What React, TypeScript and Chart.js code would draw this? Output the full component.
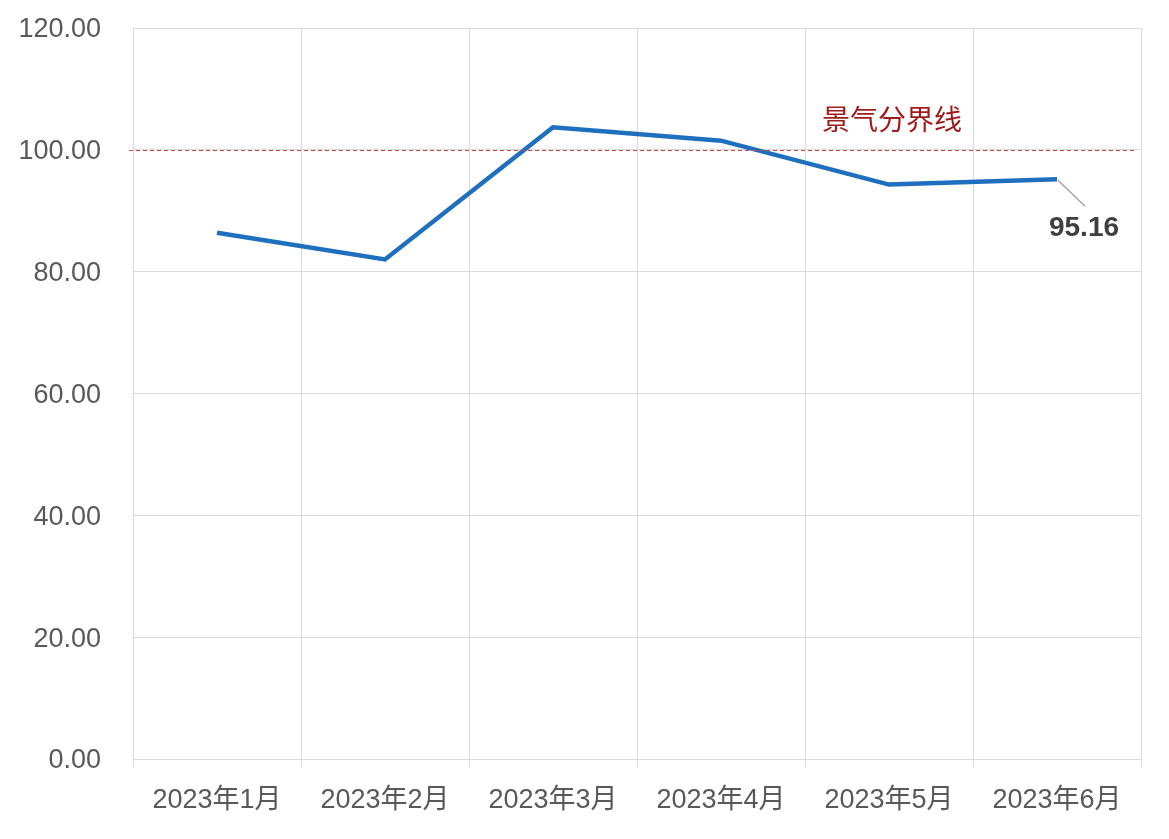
import React, { useEffect, useRef } from "react";
import { Chart, registerables } from "chart.js";

Chart.register(...registerables);

const categories = ["2023年1月", "2023年2月", "2023年3月", "2023年4月", "2023年5月", "2023年6月"];
const values = [86.4, 82.0, 103.7, 101.5, 94.3, 95.16];
const yTicks = [0, 20, 40, 60, 80, 100, 120];
const thresholdValue = 100;
const thresholdLabel = "景气分界线";
const lastLabel = "95.16";

const FONT = "'Liberation Sans', Arial, 'Noto Sans CJK SC', sans-serif";

const overlayPlugin = {
  id: "overlay",
  afterDatasetsDraw(chart: any) {
    const { ctx, chartArea, scales } = chart;
    const y = scales.y.getPixelForValue(thresholdValue);
    ctx.save();
    ctx.strokeStyle = "#d04848";
    ctx.lineWidth = 1;
    ctx.setLineDash([4, 3]);
    ctx.beginPath();
    ctx.moveTo(chartArea.left - 4, Math.round(y) + 0.5);
    ctx.lineTo(chartArea.right - 4, Math.round(y) + 0.5);
    ctx.stroke();
    ctx.setLineDash([]);
    ctx.fillStyle = "#a01c1c";
    ctx.font = "28px " + FONT;
    ctx.textAlign = "left";
    ctx.textBaseline = "middle";
    const x4 = scales.x.getPixelForValue(3);
    ctx.fillText(thresholdLabel, x4 + 101, y - 28);

    // last point label
    const meta = chart.getDatasetMeta(0);
    const pt = meta.data[meta.data.length - 1];
    ctx.strokeStyle = "#a6a6a6";
    ctx.lineWidth = 1.5;
    ctx.beginPath();
    ctx.moveTo(pt.x + 1, pt.y + 1);
    ctx.lineTo(pt.x + 28, pt.y + 27);
    ctx.stroke();
    ctx.fillStyle = "#404040";
    ctx.font = "bold 28px " + FONT;
    ctx.textAlign = "center";
    ctx.fillText(lastLabel, pt.x + 27, pt.y + 49);
    ctx.restore();
  },
};

export default function App() {
  const ref = useRef<HTMLCanvasElement>(null);
  useEffect(() => {
    if (!ref.current) return;
    const chart = new Chart(ref.current, {
      type: "line",
      data: {
        labels: categories,
        datasets: [
          {
            data: values,
            borderColor: "#1f6fbf",
            borderWidth: 4.5,
            pointRadius: 0,
            tension: 0,
            fill: false,
          },
        ],
      },
      options: {
        animation: false,
        responsive: true,
        maintainAspectRatio: false,
        layout: { padding: { top: 28, right: 28, left: 0, bottom: 0 } },
        plugins: { legend: { display: false }, tooltip: { enabled: false } },
        scales: {
          x: {
            offset: true,
            grid: { offset: true, color: "#d9d9d9", lineWidth: 1, drawTicks: true, tickLength: 8 },
            border: { display: false },
            ticks: { color: "#595959", font: { size: 27, family: FONT }, padding: 17, maxRotation: 0 },
            afterFit(scale: any) {
              scale.height = 80;
              scale.paddingLeft = 0;
              scale.paddingRight = 0;
            },
          },
          y: {
            min: 0,
            max: 120,
            afterBuildTicks(scale: any) {
              scale.ticks = yTicks.map((v) => ({ value: v }));
            },
            grid: { color: "#d9d9d9", lineWidth: 1, drawTicks: false },
            border: { display: false },
            ticks: {
              color: "#595959",
              font: { size: 27, family: FONT },
              padding: 32,
              labelOffset: 2,
              callback: (v: any) => Number(v).toFixed(2),
            },
            afterFit(scale: any) {
              scale.width = 133;
              scale.paddingTop = 0;
              scale.paddingBottom = 0;
            },
          },
        },
      },
      plugins: [overlayPlugin],
    });
    return () => chart.destroy();
  }, []);
  return (
    <div style={{ position: "fixed", left: 0, top: 0, width: 1169, height: 839, background: "#fff" }}>
      <canvas ref={ref} />
    </div>
  );
}
